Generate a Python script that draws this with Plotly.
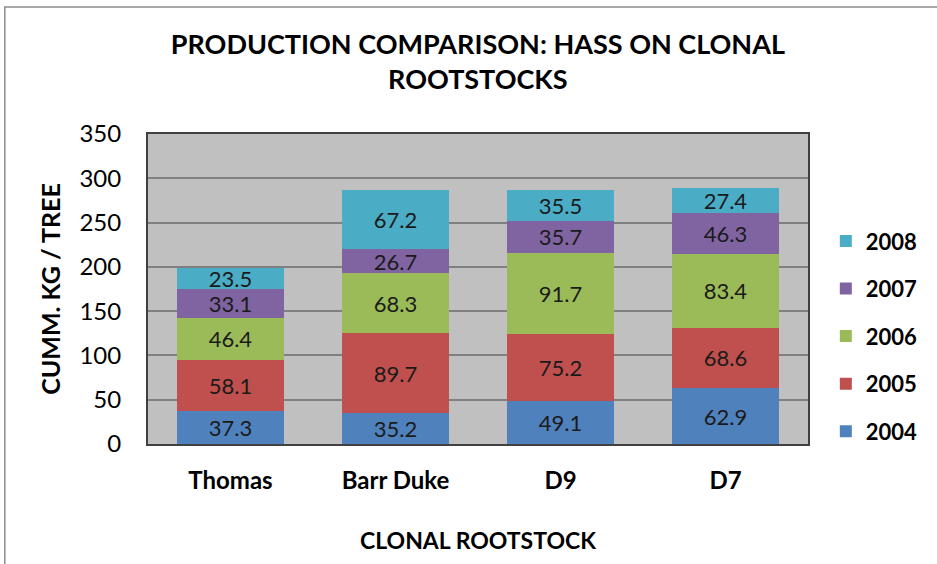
import plotly.graph_objects as go

rootstocks = ["Thomas", "Barr Duke", "D9", "D7"]
years = ["2004", "2005", "2006", "2007", "2008"]
kg_2004 = [37.3, 35.2, 49.1, 62.9]
kg_2005 = [58.1, 89.7, 75.2, 68.6]
kg_2006 = [46.4, 68.3, 91.7, 83.4]
kg_2007 = [33.1, 26.7, 35.7, 46.3]
kg_2008 = [23.5, 67.2, 35.5, 27.4]
y_ticks = [0, 50, 100, 150, 200, 250, 300, 350]

colors = ["#4F81BD", "#C0504D", "#9BBB59", "#8064A2", "#4BACC6"]
series = [kg_2004, kg_2005, kg_2006, kg_2007, kg_2008]

font = "Lato, 'Open Sans', sans-serif"

fig = go.Figure()
for i, (yr, vals, col) in enumerate(zip(years, series, colors)):
    fig.add_trace(go.Bar(
        x=rootstocks, y=vals, name="<b>" + yr + "</b>", legendgroup=yr,
        legendrank=len(years) - i,
        marker=dict(color=col, line=dict(width=0)),
        text=[f"{v:.1f}" for v in vals],
        textposition="inside", insidetextanchor="middle",
        constraintext="none",
        textfont=dict(size=22, color="#1a1a1a", family=font),
    ))

fig.update_layout(
    barmode="stack",
    bargap=0.35,
    width=937, height=564,
    margin=dict(l=148, r=129, t=134, b=120, autoexpand=False),
    paper_bgcolor="white",
    plot_bgcolor="#C0C0C0",
    font=dict(family=font, color="black"),
    title=dict(
        text="<b>PRODUCTION COMPARISON: HASS ON CLONAL<br>ROOTSTOCKS</b>",
        x=0.51, xanchor="center", y=0.904, yanchor="top",
        font=dict(size=27, family=font),
    ),
    legend=dict(
        x=1.027, y=0.348, xanchor="left", yanchor="middle",
        traceorder="grouped", tracegroupgap=16,
        font=dict(size=22, family=font, color="black"),
        itemwidth=30,
    ),
    showlegend=True,
)

fig.update_xaxes(
    title=dict(text="<b>CLONAL ROOTSTOCK</b>", font=dict(size=23), standoff=40),
    tickfont=dict(size=24),
    tickprefix="<b>", ticksuffix="</b>",
    showline=True, linecolor="#404040", linewidth=2, mirror=True,
    ticks="", ticklabelstandoff=14, automargin=False,
)
fig.update_yaxes(
    title=dict(text="<b>CUMM. KG / TREE</b>", font=dict(size=25), standoff=12),
    range=[0, 350], tickvals=y_ticks, tickfont=dict(size=24),
    showgrid=True, gridcolor="#808080", gridwidth=2,
    showline=True, linecolor="#404040", linewidth=2, mirror=True,
    zeroline=False, ticks="", ticklabelstandoff=20, automargin=False,
)

fig.add_shape(type="rect", xref="paper", yref="paper",
              x0=-0.217, x1=1.21, y0=-0.42, y1=1.41,
              line=dict(color="#8c8c8c", width=1.5), layer="below")

fig.write_html("out.html", config={"displayModeBar": False},
               post_script="document.body.style.margin='0';")
